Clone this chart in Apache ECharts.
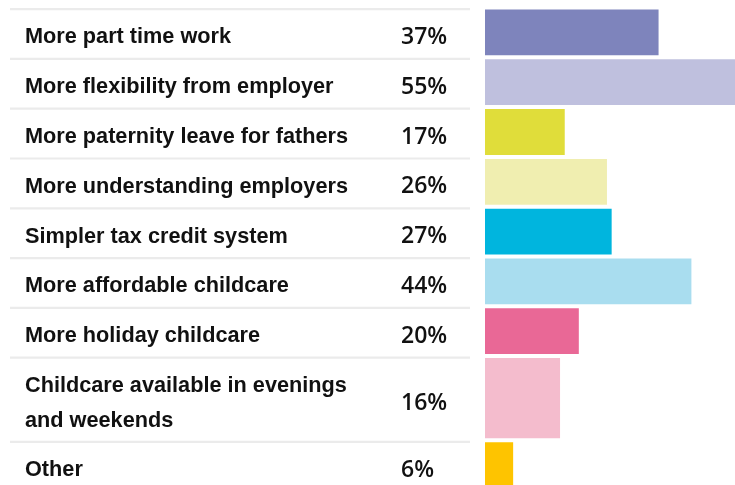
<!DOCTYPE html>
<html><head><meta charset="utf-8">
<script src="https://cdn.jsdelivr.net/npm/echarts@6/dist/echarts.min.js"></script>
<style>html,body{margin:0;padding:0;background:#fff;overflow:hidden}#c{width:760px;height:500px}</style>
</head><body><div id="c"></div>
<script>
// ---- data ----
const categories = [
  "More part time work",
  "More flexibility from employer",
  "More paternity leave for fathers",
  "More understanding employers",
  "Simpler tax credit system",
  "More affordable childcare",
  "More holiday childcare",
  "Childcare available in evenings\nand weekends",
  "Other"
];
const values = [37, 55, 17, 26, 27, 44, 20, 16, 6];
const valueLabels = ["37%", "55%", "17%", "26%", "27%", "44%", "20%", "16%", "6%"];

// ---- styles ----
const barColors = ["#7e84bc", "#bfc0de", "#e0dd3a", "#f0eeb0", "#00b5de", "#a9ddef", "#e96896", "#f4bccd", "#fec400"];
const ROW_PX = 49.8;        // height of a one-line row
const EXTRA_LINE = 0.69;    // extra row units per additional text line
const BAR_GAP = 4;

// row extents derived from line count
const spans = categories.map(c => 1 + (c.split("\n").length - 1) * EXTRA_LINE);
const starts = [];
let acc = 0;
spans.forEach(s => { starts.push(acc); acc += s; });
const total = acc;

const data = values.map((v, i) => [v, starts[i], starts[i] + spans[i], i]);

const chart = echarts.init(document.getElementById('c'), null, {renderer: 'canvas'});
chart.setOption({
  animation: false,
  grid: {left: 485, top: 9, width: 258, height: total * ROW_PX},
  xAxis: {type: 'value', min: 0, max: 55, show: false},
  yAxis: {type: 'value', min: 0, max: total, inverse: true, show: false},
  series: [{
    type: 'custom',
    clip: false,
    data: data,
    encode: {x: 0, y: [1, 2]},
    renderItem: function (params, api) {
      const v = api.value(0), s = api.value(1), e = api.value(2), i = api.value(3);
      const p0 = api.coord([0, s]);
      const p1 = api.coord([v, e]);
      const top = p0[1], bottom = p1[1];
      const left = p0[0];
      const mid = (top + bottom) / 2 + 3.5;
      return {
        type: 'group',
        children: [
          {type: 'rect', shape: {x: 10, y: top - 1, width: 460, height: 2.2}, style: {fill: '#ebebeb'}},
          {type: 'rect', shape: {x: left, y: top + 0.5, width: p1[0] - left, height: bottom - top - BAR_GAP}, style: {fill: barColors[i]}},
          {type: 'text', x: 25, y: mid, style: {
            text: categories[i], fill: '#111', font: 'bold 21.7px "Liberation Sans", Arial, sans-serif',
            lineHeight: 35, verticalAlign: 'middle', align: 'left'}},
          {type: 'text', x: left - 84, y: mid, style: {
            text: valueLabels[i], fill: '#111', font: '600 23px "Open Sans", sans-serif',
            verticalAlign: 'middle', align: 'left'}}
        ]
      };
    }
  }]
});
</script>
</body></html>
